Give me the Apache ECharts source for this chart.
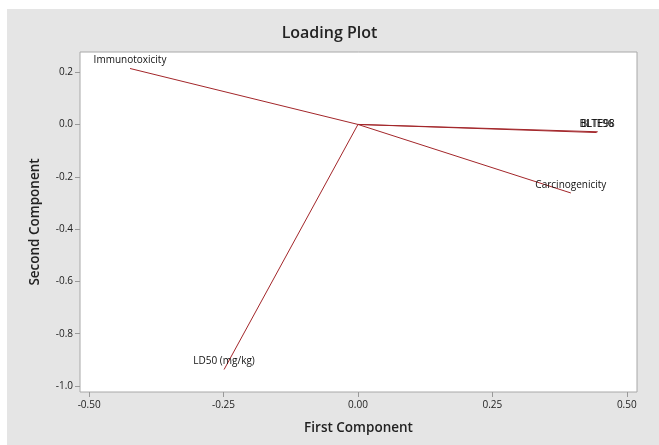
<!DOCTYPE html>
<html>
<head>
<meta charset="utf-8">
<script src="https://cdn.jsdelivr.net/npm/echarts@6/dist/echarts.min.js"></script>
<style>
	html, body { margin: 0; padding: 0; background: #fff; }
	#chart { width: 659px; height: 445px; }
</style>
</head>
<body>
<div id="chart"></div>
<script>
	// loadings
	var variables = ['Immunotoxicity', 'Carcinogenicity', 'LD50 (mg/kg)', 'BLTE98', 'BLTE96'];
	var firstComp = [-0.424, 0.396, -0.249, 0.446, 0.444];
	var secondComp = [0.214, -0.262, -0.937, -0.028, -0.031];
	var xTicks = [-0.5, -0.25, 0, 0.25, 0.5];
	var yTicks = [-1.0, -0.8, -0.6, -0.4, -0.2, 0.0, 0.2];

	var chart = echarts.init(document.getElementById('chart'));
	var font = '"Open Sans", "Noto Sans", sans-serif';
	var lineColor = '#a3262a';

	var series = variables.map(function (name, i) {
		return {
			name: name,
			type: 'line',
			symbol: 'none',
			silent: true,
			lineStyle: { color: lineColor, width: 1 },
			data: [
				[0, 0],
				{
					value: [firstComp[i], secondComp[i]],
					symbol: 'circle',
					symbolSize: 0.1,
					label: {
						show: true,
						position: 'top',
						distance: 3,
						formatter: name,
						color: '#111',
						fontSize: 10,
						fontFamily: font
					}
				}
			]
		}
	})

	var option = {
		backgroundColor: '#ffffff',
		animation: false,
		graphic: [{
			type: 'rect',
			z: -10,
			shape: { x: 7, y: 9, width: 652, height: 436 },
			style: { fill: '#e5e5e5' }
		}],
		title: {
			text: 'Loading Plot',
			left: 'center',
			top: 20,
			textStyle: { fontSize: 16, fontWeight: 600, color: '#222', fontFamily: font }
		},
		grid: {
			left: 80,
			right: 22,
			top: 52,
			bottom: 53,
			show: true,
			backgroundColor: '#ffffff',
			borderColor: '#a8a8a8',
			borderWidth: 1
		},
		xAxis: {
			type: 'value',
			min: -0.517,
			max: 0.519,
			name: 'First Component',
			nameLocation: 'middle',
			nameGap: 29,
			nameTextStyle: { fontSize: 13.5, fontWeight: 600, color: '#222', fontFamily: font },
			axisLine: { show: false, onZero: false },
			splitLine: { show: false },
			axisTick: { show: true, customValues: xTicks, length: 5, lineStyle: { color: '#999' } },
			axisLabel: {
				customValues: xTicks,
				color: '#222',
				fontSize: 10,
				fontFamily: font,
				margin: 8,
				formatter: function (v) { return v.toFixed(2) }
			}
		},
		yAxis: {
			type: 'value',
			min: -1.023,
			max: 0.277,
			name: 'Second Component',
			nameLocation: 'middle',
			nameGap: 38,
			nameTextStyle: { fontSize: 13.5, fontWeight: 600, color: '#222', fontFamily: font },
			axisLine: { show: false, onZero: false },
			splitLine: { show: false },
			axisTick: { show: true, customValues: yTicks, length: 5, lineStyle: { color: '#999' } },
			axisLabel: {
				customValues: yTicks,
				color: '#222',
				fontSize: 10,
				fontFamily: font,
				margin: 7,
				formatter: function (v) { return v.toFixed(1) }
			}
		},
		series: series
	}

	chart.setOption(option)
</script>
</body>
</html>
